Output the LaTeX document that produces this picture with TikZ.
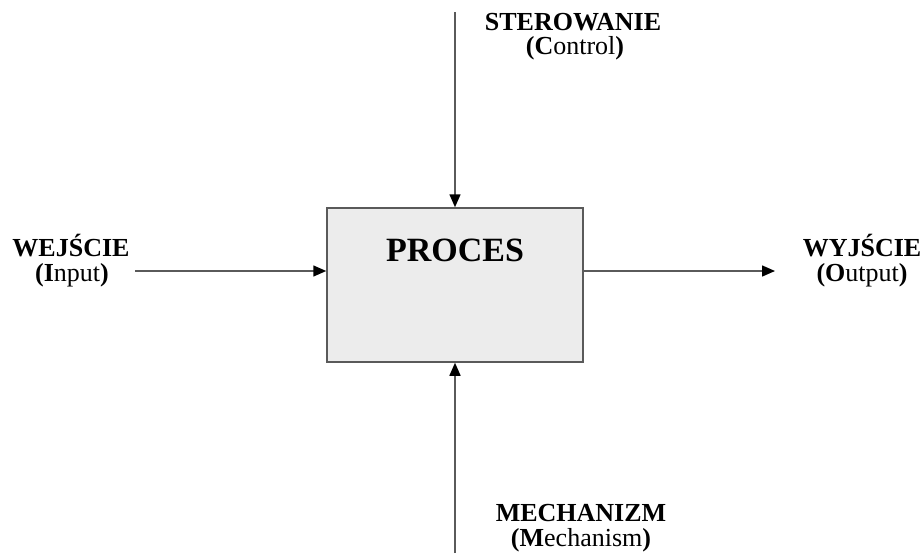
\documentclass[tikz,border=0pt]{standalone}
\usepackage{fontspec}
\setmainfont{Liberation Serif}
\usetikzlibrary{arrows.meta}
\definecolor{linegray}{HTML}{5A5A5A}
\definecolor{boxfill}{HTML}{ECECEC}
\tikzset{
  conn/.style={draw=linegray, line width=1.5pt, -{Triangle[color=black,length=13pt,width=11pt]}},
  procbox/.style={draw=linegray, line width=1.5pt, fill=boxfill, minimum width=256pt, minimum height=154pt, inner sep=0pt},
  lbl/.style={anchor=base, font=\fontsize{26}{27}\selectfont, inner sep=0pt}
}
\begin{document}
\begin{tikzpicture}[x=1pt,y=-1pt]
\useasboundingbox (0,0) rectangle (924,557);
\node[procbox] (box) at (455,285) {};
\node[font=\fontsize{34}{36}\bfseries\selectfont, inner sep=0pt] (proctext) at (455,250) {PROCES};
\coordinate (ctop) at (455,12);
\coordinate (mbot) at (455,553);
\coordinate (inL) at (135,271);
\coordinate (outR) at (775,271);
\draw[conn] (ctop) -- (box.north);
\draw[conn] (mbot) -- (box.south);
\draw[conn] (inL) -- (inL -| box.west);
\draw[conn] (outR -| box.east) -- (outR);
\node[lbl] (wej1) at (71,256) {\textbf{WEJŚCIE}};
\node[lbl] (wej2) at (72,281) {\textbf{(I}nput\textbf{)}};
\node[lbl] (wyj1) at (862,256) {\textbf{WYJŚCIE}};
\node[lbl] (wyj2) at (862,281) {\textbf{(O}utput\textbf{)}};
\node[lbl] (ster1) at (573,30) {\textbf{STEROWANIE}};
\node[lbl] (ster2) at (575,54) {\textbf{(C}ontrol\textbf{)}};
\node[lbl] (mech1) at (581,521) {\textbf{MECHANIZM}};
\node[lbl] (mech2) at (581,546) {\textbf{(M}echanism\textbf{)}};
\end{tikzpicture}
\end{document}
